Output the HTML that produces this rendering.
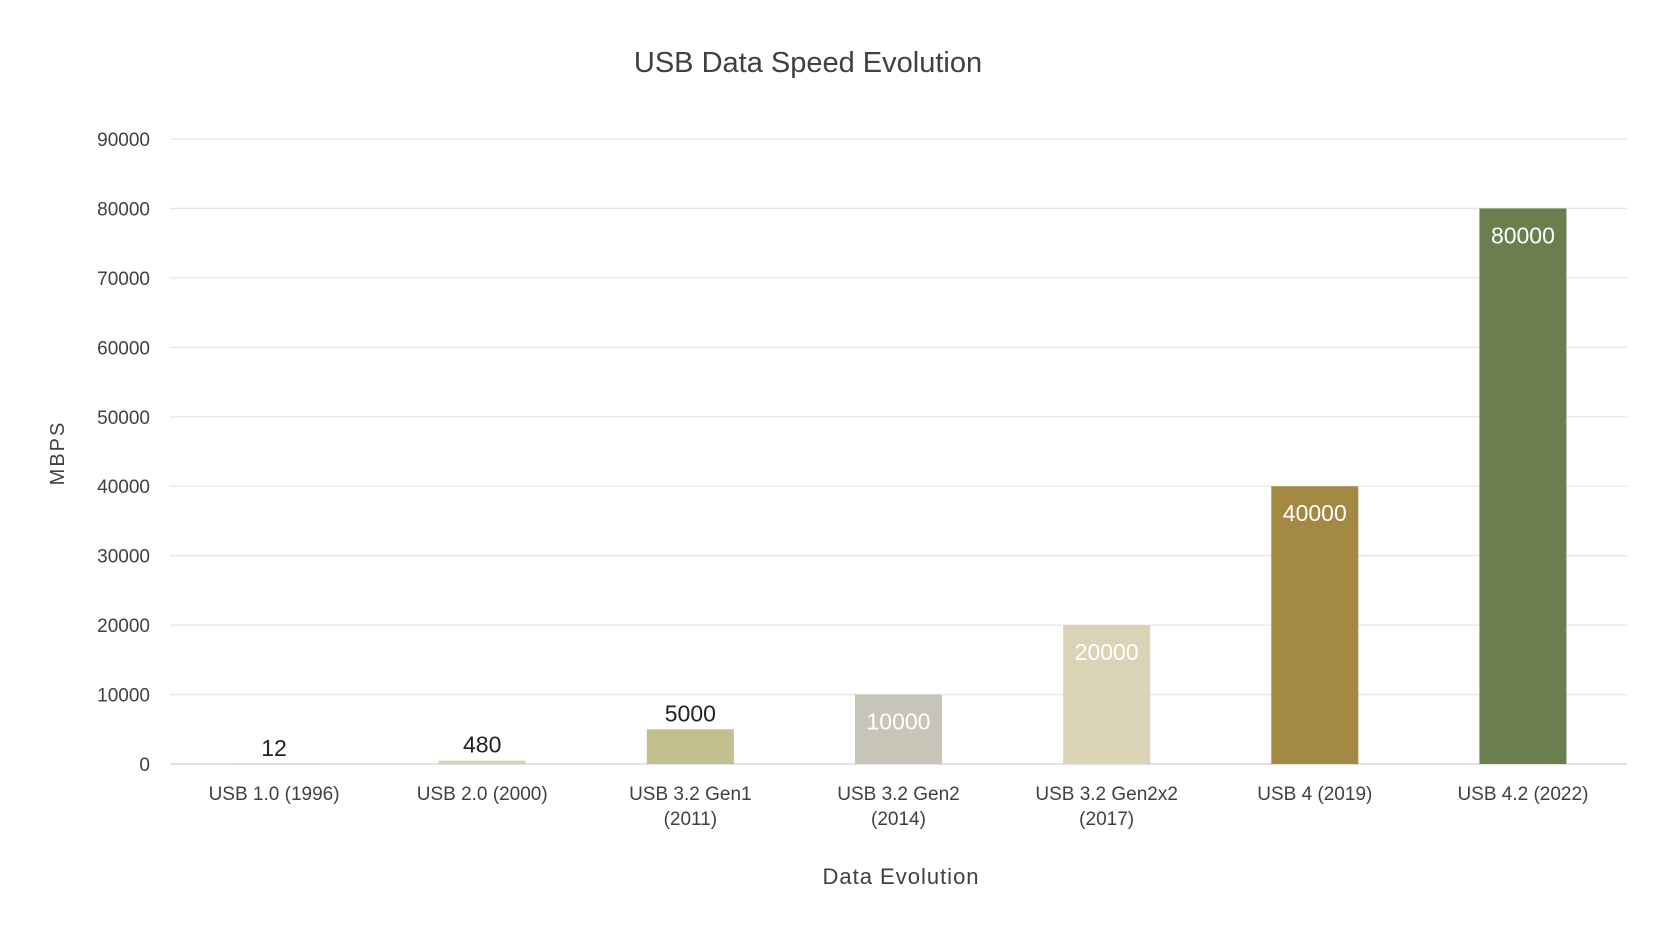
<!DOCTYPE html>
<html><head><meta charset="utf-8"><style>
html,body{margin:0;padding:0;background:#fff;}
svg text{font-family:"Liberation Sans",sans-serif;}
</style></head><body>
<svg id="chart" width="1656" height="940" viewBox="0 0 1656 940">
<text x="808" y="72" text-anchor="middle" font-size="29" fill="#404040">USB Data Speed Evolution</text>
<g id="grid"></g>
<g id="bars"></g>
<g id="xlabels"></g>
<text x="0" y="0" transform="translate(64,453) rotate(-90)" text-anchor="middle" font-size="20" letter-spacing="2" fill="#404040">MBPS</text>
<text x="901" y="884" text-anchor="middle" font-size="22" letter-spacing="1" fill="#404040">Data Evolution</text>
</svg>
<script>
const categories=[["USB 1.0  (1996)"],["USB 2.0  (2000)"],["USB 3.2 Gen1","(2011)"],["USB 3.2 Gen2","(2014)"],["USB 3.2 Gen2x2","(2017)"],["USB 4  (2019)"],["USB 4.2  (2022)"]];
const speeds=[12,480,5000,10000,20000,40000,80000];
const yTicks=[0,10000,20000,30000,40000,50000,60000,70000,80000,90000];
const colors=["#d8d0b0","#d8d0b0","#c2c08e","#c6c5b8","#dbd3b5","#a38942","#6b7f4e"];
const labelColors=["#222","#222","#222","#fff","#fff","#fff","#fff"];
const NS="http://www.w3.org/2000/svg";
const L=170,R=1627,Y0=764,Y1=139,YMAX=90000;
const y=v=>Y0-(v/YMAX)*(Y0-Y1);
const band=(R-L)/categories.length;
const x=i=>L+band*(i+0.5);
const bw=87;
const grid=document.getElementById('grid'),bars=document.getElementById('bars'),xl=document.getElementById('xlabels');
function mk(t,a,p){const e=document.createElementNS(NS,t);for(const k in a)e.setAttribute(k,a[k]);p.appendChild(e);return e;}
yTicks.forEach(t=>{
  const ln=mk('line',{x1:L,x2:R,y1:y(t),y2:y(t),stroke:t===0?'#d0d0d0':'#e6e6e6','stroke-width':1.3},grid);
  
  
  const tx=mk('text',{x:150,y:y(t)+7,'text-anchor':'end','font-size':19,fill:'#404040'},grid);
  tx.textContent=t;
  
  
});
speeds.forEach((v,i)=>{
  const r=mk('rect',{x:x(i)-bw/2,y:y(v),width:bw,height:Y0-y(v),fill:colors[i]},bars);
  
  
  const inside=(Y0-y(v))>40;
  const t=mk('text',{x:x(i),y:inside?y(v)+35:y(v)-8,'text-anchor':'middle','font-size':23,fill:labelColors[i]},bars);
  t.textContent=v;
  
  
  categories[i].forEach((s,j)=>{
    const c=mk('text',{x:x(i),y:800+j*25,'text-anchor':'middle','font-size':19,fill:'#404040'},xl);
    c.textContent=s;
    
    
  });
});
</script>
</body></html>
